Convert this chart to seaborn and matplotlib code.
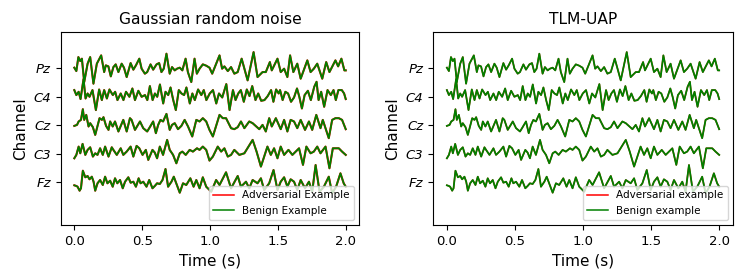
import matplotlib
matplotlib.use("Agg")
import matplotlib.pyplot as plt
import seaborn as sns
import numpy as np

# ---------------- data ----------------
channels = ["Fz", "C3", "Cz", "C4", "Pz"]  # bottom to top

pz_t = [0.0, 0.015, 0.03, 0.044, 0.056, 0.073, 0.098, 0.117, 0.141, 0.166, 0.198, 0.22, 0.232, 0.251,
        0.269, 0.288, 0.305, 0.325, 0.349, 0.366, 0.386, 0.415, 0.435, 0.454, 0.479, 0.496, 0.52, 0.537,
        0.562, 0.581, 0.606, 0.625, 0.642, 0.659, 0.679, 0.703, 0.72, 0.74, 0.757, 0.777, 0.796, 0.82,
        0.837, 0.862, 0.886, 0.903, 0.923, 0.947, 0.972, 0.996,
        1.016, 1.07, 1.089, 1.106, 1.131, 1.155, 1.179, 1.204, 1.233, 1.277, 1.321, 1.35, 1.387, 1.411,
        1.441, 1.455, 1.497, 1.521, 1.546, 1.57, 1.59, 1.614, 1.643, 1.668, 1.717, 1.741, 1.765, 1.79,
        1.827, 1.856, 1.88, 1.924, 1.944, 1.968, 1.99, 2.0]
pz_v = [0.7, -2.7, 11.3, 7.3, 9.7, -13.7, 4.7, 11.3, -15.3, 4.7, 13, -3.7, 3, 2,
        -8, 1.3, 4, -3.7, 4.7, 0.7, -8.7, 5.3, -1.3, 3, 9.7, -0.3, -5.3, -3.7,
        4, -1.3, 4, 5.3, -3.7, -0.3, 14.7, -5.3, 1.3, -2, -0.3, 0.7, -2, 9.7,
        -3.7, -13.7, 9.7, -5.3, -0.3, 4, 2.7, 0.7,
        -5.3, 13, -0.3, 2, -2.7, 1.3, -5.3, -3.7, 9.7, -12, 16.3, -8.7, -3.7, -3.7,
        6.3, -2, 9.7, -3.7, -0.3, -8.7, 13, -3.7, 4.7, -10.3, 8, -3.7, -0.3, 4.7,
        -10.3, 6.3, -3.7, 8, 2, 9.7, -2, -2]

c4_t = [0.0, 0.015, 0.032, 0.046, 0.068, 0.083, 0.098, 0.112, 0.134, 0.159, 0.183, 0.203, 0.22, 0.24,
        0.259, 0.284, 0.301, 0.318, 0.342, 0.362, 0.381, 0.406, 0.428, 0.447, 0.472, 0.496, 0.521, 0.538,
        0.557, 0.577, 0.594, 0.611, 0.631, 0.655, 0.672, 0.692, 0.709, 0.729, 0.748, 0.77, 0.79, 0.809,
        0.826, 0.851, 0.87, 0.888, 0.912, 0.936, 0.954, 0.973, 0.998, 1.022, 1.046, 1.066, 1.09, 1.12,
        1.144, 1.169, 1.188, 1.208, 1.227, 1.249, 1.271, 1.291, 1.311, 1.335, 1.355, 1.377, 1.401, 1.425,
        1.45, 1.467, 1.487, 1.506, 1.516, 1.535, 1.555, 1.575, 1.597, 1.619, 1.641, 1.658, 1.677, 1.697,
        1.721, 1.743, 1.768, 1.785, 1.8, 1.819, 1.841, 1.866, 1.89, 1.91, 1.927, 1.946, 1.971, 1.988, 2.0]
c4_v = [6.7, 1.7, 5, -2.3, 17.7, -1.7, 3.3, 0, 6.7, -13.3, 7.3, -3.3, 6.7, -1.7,
        7.3, 1.7, 5, -3.3, 3.3, -3.3, 5, 0, 8.3, -3.3, 6, 0, 1.7, -3.3,
        10.7, -3.3, 3.3, 0, 12.3, -6.7, 5, 1.7, 9.3, -3.3, -13.3, 6.7, 3.3, 1.7,
        9.3, -6.7, 3.3, -3.3, 7.3, 1.7, 6.7, -3.3, 3.3, 6.7, -6.7, 3.3, -0.7, 12.7,
        -13.3, 6.7, -3.3, 3.3, 6.7, -5, 7.3, 0.7, 10.7, -3.3, 3.3, -4, -3.3, 0.7,
        6.7, -5, 7.3, 3.3, 6.7, -3.3, 5, 3.3, -5, -0.7, 8.3, 0, -11.7, 1.7,
        6, -3.3, 10, 15, -3.3, 5, -10, 6.7, 1.7, 6.7, -3.3, 6.7, 6.7, 3.3, -2.3]

cz_t = [0.0, 0.02, 0.032, 0.049, 0.063, 0.073, 0.088, 0.105, 0.117, 0.137, 0.154, 0.186, 0.203, 0.215,
        0.234, 0.252, 0.264, 0.283, 0.3, 0.325, 0.361, 0.386, 0.41, 0.422, 0.447, 0.484, 0.508, 0.537,
        0.552, 0.581, 0.601, 0.618, 0.635, 0.654, 0.679, 0.703, 0.72, 0.74, 0.764, 0.789, 0.813, 0.838,
        0.869, 0.899, 0.923, 0.947, 0.972, 0.996, 1.021, 1.07, 1.094, 1.118, 1.155, 1.179, 1.204, 1.228,
        1.253, 1.289, 1.314, 1.363, 1.387, 1.411, 1.436, 1.455, 1.485, 1.521, 1.546, 1.57, 1.594, 1.619,
        1.643, 1.668, 1.7, 1.729, 1.753, 1.783, 1.814, 1.831, 1.875, 1.9, 1.924, 1.949, 1.973, 2.0]
cz_v = [-0.7, 0.3, 3.7, 5.3, 16, 5.3, 10.3, -1.3, 2, -2, -9.7, 7, 5.3, 8,
        -0.7, -4.7, 3.7, -1.3, 3.7, -6.3, 5.3, -6.3, 7, 5.3, -4.7, 3.7, -3, -6.3,
        -3, 3.7, -8, 0.3, 5.3, 3.7, 11.3, -4.7, 0.3, 2, -4, -0.7, 5.3, -1.3,
        -11.3, 5.3, 3.7, 7, 3.7, -4.7, -11.3, 10.3, 7, 7, -3, -4, -2, 3.7,
        -3, 3.7, 2, -4, 0.3, -6.3, 7, -1.3, 7, -4, 5.3, -6.3, 5.3, 3.7,
        -3, 5.3, -4.7, 3.7, -4.7, 10.3, -3, 5.3, -13, 5.3, 7, 7, 5.3, -4]

c3_t = [0.0, 0.015, 0.032, 0.044, 0.061, 0.081, 0.098, 0.117, 0.137, 0.154, 0.171, 0.19, 0.21, 0.227,
        0.252, 0.276, 0.288, 0.313, 0.342, 0.361, 0.386, 0.415, 0.435, 0.459, 0.479, 0.503, 0.527, 0.545,
        0.576, 0.593, 0.61, 0.63, 0.654, 0.684, 0.703, 0.728, 0.752, 0.777, 0.796, 0.821, 0.85, 0.874,
        0.904, 0.923, 0.947, 0.972, 0.996, 1.021, 1.057, 1.082, 1.106, 1.131, 1.155, 1.179, 1.216, 1.253,
        1.314, 1.343, 1.375, 1.423, 1.448, 1.472, 1.497, 1.521, 1.546, 1.578, 1.607, 1.656, 1.685, 1.71,
        1.741, 1.765, 1.79, 1.814, 1.851, 1.88, 1.905, 1.949, 1.973, 2.0]
c3_v = [-4.7, -1.3, 7, 0.3, 9.7, -1.3, 3.7, 6.3, -3, 0.3, -1.3, 5.3, -1.3, 7,
        -3, 6.3, 3.7, -1.3, 5.3, -1.3, 2, 7, -3, 7.7, 5.3, -1.3, 3.7, -6.3,
        3.7, 1, -4.7, 7, -1.3, 13.7, 3.7, -1.3, -9.7, 0.3, 2, -1.3, 3.7, 2,
        5.3, 3.7, 7, 3.7, -7, -3, 7, 2, 5.3, -3, -1.3, 3.7, -1.3, 0.3,
        13.7, 2, -13, 7, -1.3, 5.3, -4.7, 7, -1.3, 3.7, -1.3, 5.3, -11.3, 7,
        0.3, 2, 7, 0.3, 7, -14.7, 5.3, 5.3, 2, -1.3]

fz_t = [0.0, 0.015, 0.024, 0.039, 0.049, 0.063, 0.081, 0.098, 0.112, 0.129, 0.142, 0.154, 0.171, 0.19,
        0.21, 0.227, 0.244, 0.264, 0.283, 0.3, 0.317, 0.337, 0.357, 0.374, 0.398, 0.415, 0.435, 0.454,
        0.474, 0.488, 0.508, 0.532, 0.552, 0.576, 0.593, 0.61, 0.63, 0.65, 0.672, 0.691, 0.716, 0.733,
        0.777, 0.801, 0.825, 0.855, 0.879, 0.899, 0.923, 0.947, 0.972, 1.009, 1.045, 1.07, 1.118, 1.155,
        1.204, 1.228, 1.265, 1.289, 1.314, 1.35, 1.375, 1.399, 1.436, 1.468, 1.497, 1.521, 1.546, 1.57,
        1.594, 1.619, 1.643, 1.668, 1.7, 1.729, 1.753, 1.778, 1.807, 1.839, 1.875, 1.9, 1.929, 1.961,
        1.985, 2.0]
fz_v = [-3.3, -4, -4.7, -8.7, -6.3, 11.3, 4.7, 6, 2.7, 5.3, 0.3, -8.7, -1.3, 2,
        -3, 5.3, -1.3, 1.3, -4.7, 3.7, -1.3, 2, -6.3, 0.3, 4.7, -0.7, 0.3, -4.7,
        3.7, -1.3, 0.3, -4.7, 2, -6.3, -4, -1.3, -2, 2, 13, -4.7, 0.3, 5.3,
        -10.7, -1.3, -3, 3.7, -4.7, 2, -6.3, 4.7, -4.7, -9.7, 2, -3, 9.7, -6.3,
        6, -4.7, 0.3, -6.3, 2, -1.3, 3.7, -8, -1.3, 12, -8, 0.3, 4.7, -4.7,
        2.7, 0.3, -8, 2, -6.3, 0.3, -9.7, 17, -9.7, -4.7, 5.3, -11.3, -4.7, 8.7,
        -1.3, -4.7]

series_t = [fz_t, c3_t, cz_t, c4_t, pz_t]
series_v = [fz_v, c3_v, cz_v, c4_v, pz_v]

titles = ["Gaussian random noise", "TLM-UAP"]
adv_labels = ["Adversarial Example", "Adversarial example"]
ben_labels = ["Benign Example", "Benign example"]

# ---------------- layout / style ----------------
SPACING = 28.4
plt.rcParams["font.family"] = ["DejaVu Sans"]

fig = plt.figure(figsize=(7.47, 2.80), dpi=100)
axes = [fig.add_axes([0.0813, 0.1964, 0.3997, 0.688]),
        fig.add_axes([0.5800, 0.1964, 0.4010, 0.688])]

red_lw = [1.5, 1.1]
for k, ax in enumerate(axes):
    for i in range(len(channels)):
        t = np.asarray(series_t[i])
        v = np.asarray(series_v[i]) + i * SPACING
        sns.lineplot(x=t, y=v, ax=ax, color="red", linewidth=red_lw[k],
                     estimator=None, sort=False,
                     label=adv_labels[k] if i == 0 else None, legend=False)
    for i in range(len(channels)):
        t = np.asarray(series_t[i])
        v = np.asarray(series_v[i]) + i * SPACING
        sns.lineplot(x=t, y=v, ax=ax, color="green", linewidth=1.3,
                     estimator=None, sort=False,
                     label=ben_labels[k] if i == 0 else None, legend=False)

    ax.set_xlim(-0.1, 2.1)
    ax.set_ylim(-43, 4 * SPACING + 36)
    ax.set_xticks([0.0, 0.5, 1.0, 1.5, 2.0])
    ax.set_xticklabels(["0.0", "0.5", "1.0", "1.5", "2.0"], fontsize=9.5)
    ax.set_yticks([i * SPACING for i in range(len(channels))])
    ax.set_yticklabels(channels, fontsize=9.5, fontstyle="italic")
    ax.set_xlabel("Time (s)", fontsize=11)
    ax.set_ylabel("Channel", fontsize=11)
    ax.set_title(titles[k], fontsize=11.2)
    leg = ax.legend(loc="lower right", fontsize=7.5)
    for line in leg.get_lines():
        line.set_linewidth(1.1)

fig.savefig("out.png", dpi=100)
